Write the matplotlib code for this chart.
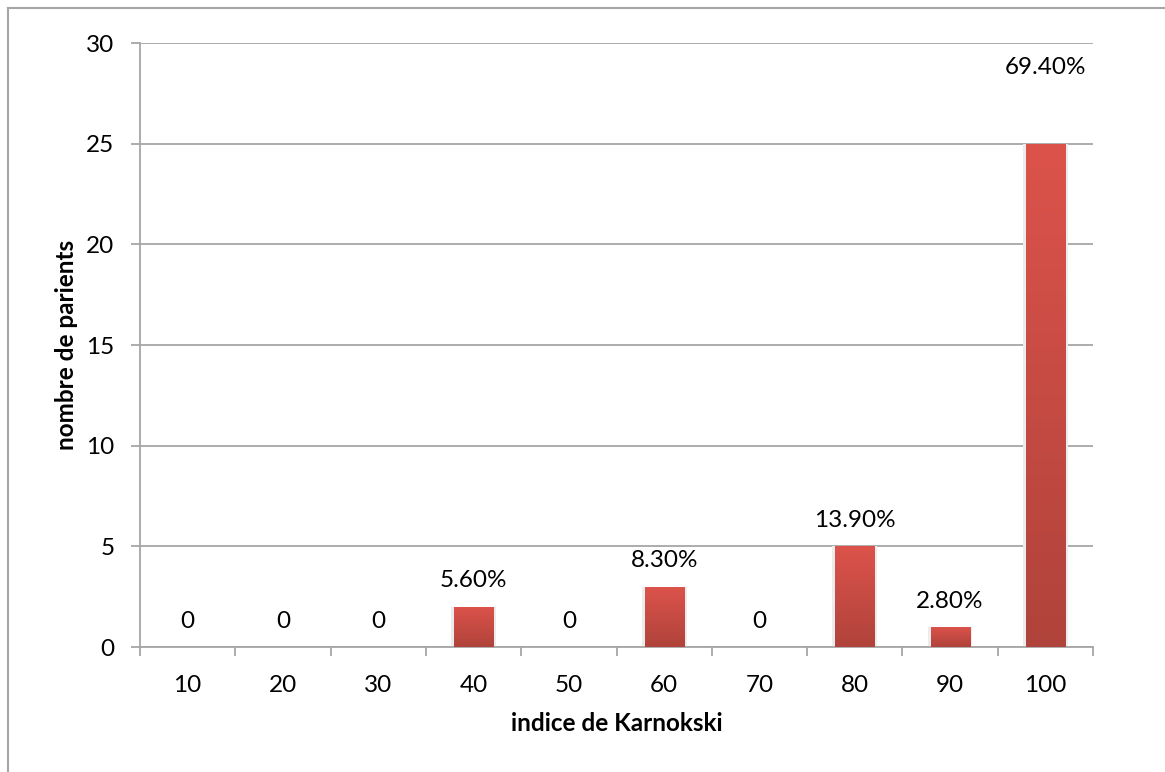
import numpy as np
import matplotlib
matplotlib.use("Agg")
import matplotlib.pyplot as plt
from matplotlib.colors import LinearSegmentedColormap
from matplotlib.patches import Rectangle
from matplotlib.lines import Line2D

# data
categories = ['10', '20', '30', '40', '50', '60', '70', '80', '90', '100']
counts = [0, 0, 0, 2, 0, 3, 0, 5, 1, 25]
labels = ['0', '0', '0', '5.60%', '0', '8.30%', '0', '13.90%', '2.80%', '69.40%']

plt.rcParams['font.family'] = ['Lato', 'DejaVu Sans']
grey = '#a6a6a6'
fs = 17.5

fig = plt.figure(figsize=(11.65, 7.72), dpi=100)
ax = fig.add_axes([140 / 1165, 1 - 647 / 772, 953 / 1165, 604 / 772])

x = np.arange(len(categories))
bars = ax.bar(x, counts, width=0.41, color='#d4504a', zorder=3)

# vertical gradient on each bar (light red top, dark red bottom)
cmap = LinearSegmentedColormap.from_list('bar', ['#b0433b', '#dc534b'])
grad = np.linspace(0, 1, 256).reshape(-1, 1)
for b in bars:
    if b.get_height() <= 0:
        continue
    x0, w, h = b.get_x(), b.get_width(), b.get_height()
    # faint shadow
    ax.add_patch(Rectangle((x0 - 0.03, 0), w + 0.06, h, color='#ececec', zorder=2, lw=0))
    im = ax.imshow(grad, extent=[x0, x0 + w, 0, h], origin='lower', cmap=cmap,
                   aspect='auto', zorder=4)
    im.set_clip_path(b)

# value labels above bars
for xi, c, lab in zip(x, counts, labels):
    off = 47 if c >= 20 else 11
    ax.annotate(lab, (xi, c), xytext=(0, off), textcoords='offset points',
                ha='center', va='bottom', fontsize=fs, color='black')

ax.set_xlim(-0.5, len(categories) - 0.5)
ax.set_ylim(0, 30)
ax.set_yticks(range(0, 31, 5))
ax.yaxis.grid(True, color=grey, lw=1.3, zorder=0)
ax.set_axisbelow(True)

ax.set_xticks(x)
ax.set_xticklabels(categories)
ax.set_xticks(np.arange(-0.5, len(categories), 1), minor=True)
ax.tick_params(axis='x', which='major', length=0, pad=20, labelsize=fs)
ax.tick_params(axis='x', which='minor', length=6.5, width=1.3, color=grey, direction='out')
ax.tick_params(axis='y', length=6.5, width=1.3, color=grey, pad=12, labelsize=fs)

for s in ['top', 'right']:
    ax.spines[s].set_visible(False)
for s in ['left', 'bottom']:
    ax.spines[s].set_color(grey)
    ax.spines[s].set_linewidth(1.3)

ax.set_xlabel('indice de Karnokski', fontsize=fs, fontweight='bold', labelpad=12)
ax.set_ylabel('nombre de parients', fontsize=fs, fontweight='bold', labelpad=6)

# outer chart frame (top and left visible)
fig.add_artist(Line2D([8 / 1165, 1], [1 - 8 / 772, 1 - 8 / 772], color=grey, lw=1.5))
fig.add_artist(Line2D([8 / 1165, 8 / 1165], [0, 1 - 8 / 772], color=grey, lw=1.5))

fig.savefig('out.png', dpi=100)
